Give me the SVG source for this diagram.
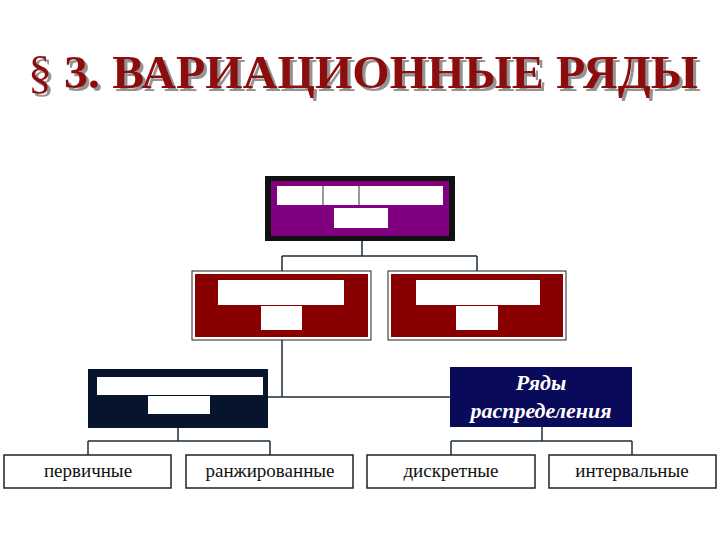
<svg xmlns="http://www.w3.org/2000/svg" width="720" height="540" viewBox="0 0 720 540">
<defs>
<filter id="sh" x="-5%" y="-20%" width="110%" height="140%">
<feDropShadow dx="3" dy="3" stdDeviation="0.6" flood-color="#888" flood-opacity="0.9"/>
</filter>
</defs>
<style>
.t{font-family:"Liberation Serif","DejaVu Serif",serif;font-weight:bold;font-size:46px}
.w{fill:#fff}
.c{stroke:#1c2e3a;stroke-width:1.5;fill:none}
.lb{font-family:"Liberation Serif","DejaVu Serif",serif;font-size:19px;fill:#111;text-anchor:middle}
.rb{fill:#fff;stroke:#222;stroke-width:1.5}
.dt{font-family:"Liberation Serif","DejaVu Serif",serif;font-size:22px;font-style:italic;font-weight:bold;fill:#fff;text-anchor:middle}
</style>
<rect width="720" height="540" fill="#fff"/>
<g id="title">
<text x="28" y="88" class="t" fill="#8b0a0a" filter="url(#sh)" textLength="670" lengthAdjust="spacingAndGlyphs"><tspan font-weight="normal">§</tspan> 3. ВАРИАЦИОННЫЕ РЯДЫ</text>
</g>
<g id="connectors">
<path class="c" d="M362 241V256M282 256H477M282 256V272M477 256V272"/>
<path class="c" d="M282 339V397M268 397H451"/>
<path class="c" d="M178 428V441M88 441H270M88 441V456M270 441V456"/>
<path class="c" d="M542 427V441M451 441H632M451 441V456M632 441V456"/>
</g>
<g id="top">
<rect x="265" y="176" width="190" height="65" fill="#111"/>
<rect x="271" y="181" width="178" height="55" fill="#800080"/>
<rect x="277" y="186" width="166" height="19" class="w"/>
<path d="M323 186V205M359 186V205" stroke="#333" stroke-width="1"/>
<rect x="334" y="208" width="54" height="20" class="w"/>
</g>
<g id="left-mid">
<rect x="192" y="271" width="179" height="69" fill="#fff" stroke="#222" stroke-width="1"/>
<rect x="195" y="274" width="173" height="63" fill="#880000"/>
<rect x="218" y="280" width="126" height="25" class="w"/>
<rect x="261" y="306" width="41" height="24" class="w"/>
</g>
<g id="right-mid">
<rect x="388" y="271" width="178" height="69" fill="#fff" stroke="#222" stroke-width="1"/>
<rect x="391" y="274" width="172" height="63" fill="#880000"/>
<rect x="416" y="280" width="124" height="25" class="w"/>
<rect x="456" y="306" width="42" height="24" class="w"/>
</g>
<g id="left-navy">
<rect x="88" y="369" width="180" height="59" fill="#06142e"/>
<rect x="97" y="377" width="166" height="18" class="w"/>
<rect x="148" y="396" width="62" height="18" class="w"/>
</g>
<g id="right-navy">
<rect x="450" y="367" width="182" height="60" fill="#0a0a5a"/>
<text x="541" y="390" class="dt">Ряды</text>
<text x="541" y="418" class="dt">распределения</text>
</g>
<g id="n1"><rect x="4" y="455" width="167" height="33" class="rb"/><text x="88" y="477" class="lb">первичные</text></g>
<g id="n2"><rect x="186" y="455" width="167" height="33" class="rb"/><text x="270" y="477" class="lb">ранжированные</text></g>
<g id="n3"><rect x="367" y="455" width="168" height="33" class="rb"/><text x="451" y="477" class="lb">дискретные</text></g>
<g id="n4"><rect x="549" y="455" width="167" height="33" class="rb"/><text x="632" y="477" class="lb">интервальные</text></g>
</svg>
